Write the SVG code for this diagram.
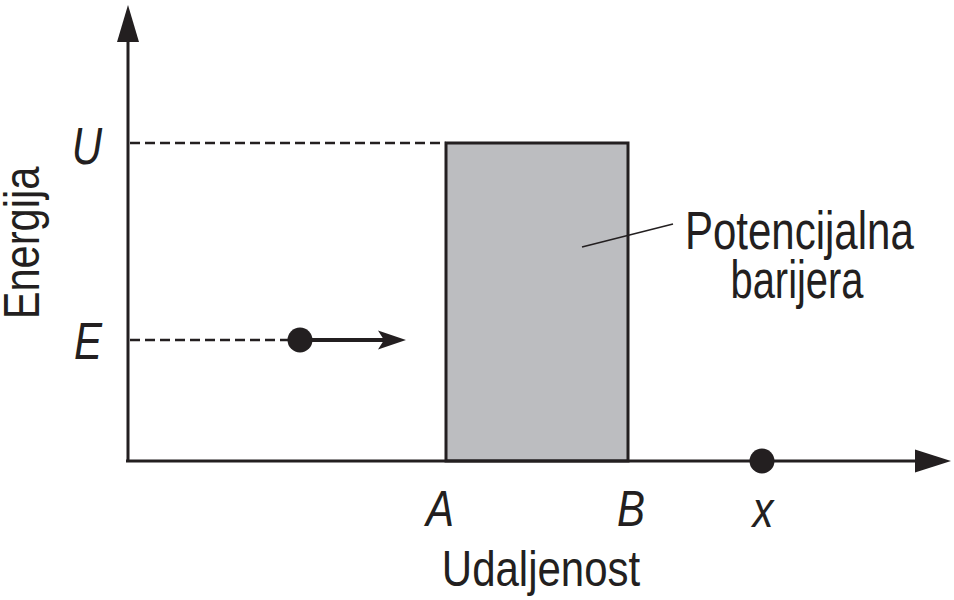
<svg xmlns="http://www.w3.org/2000/svg" width="954" height="600" viewBox="0 0 954 600">
<style>
.ax{stroke:#231f20;stroke-width:3;fill:none}
.dash{stroke:#231f20;stroke-width:2.5;stroke-dasharray:10,5;fill:none}
.t{font-family:"Liberation Sans",Arial,sans-serif;font-size:42px;fill:#231f20}
.i{font-style:italic}
.dot{fill:#231f20}
</style>
<rect width="954" height="600" fill="#fff"/>
<g id="barrier">
<rect x="446" y="143" width="182" height="318" fill="#bcbdc0" stroke="#231f20" stroke-width="3"/>
</g>
<g id="connectors">
<line class="ax" x1="128" y1="462" x2="128" y2="35"/>
<polygon class="dot" points="128,5 117,42 139,42"/>
<line class="ax" x1="126" y1="461" x2="920" y2="461"/>
<polygon class="dot" points="951,461 915,449.5 915,472.5"/>
<line class="dash" x1="130" y1="143" x2="446" y2="143"/>
<line class="dash" x1="130" y1="340" x2="296" y2="340"/>
<line stroke="#231f20" stroke-width="4" x1="300" y1="340" x2="390" y2="340"/>
<polygon class="dot" points="406,340 378,330.5 384,340 378,349.5"/>
<line stroke="#231f20" stroke-width="1.5" x1="582" y1="247" x2="673" y2="224"/>
</g>
<g id="particle"><circle class="dot" cx="300" cy="340" r="12.5"/></g>
<g id="xdot"><circle class="dot" cx="762" cy="461" r="12.5"/></g>
<g id="labels">
<text class="t i" transform="translate(87,164) scale(1,1.22)" text-anchor="middle">U</text>
<text class="t i" transform="translate(88,359) scale(1,1.22)" text-anchor="middle">E</text>
<text class="t i" transform="translate(440,526) scale(1,1.2)" text-anchor="middle">A</text>
<text class="t i" transform="translate(631,526) scale(1,1.2)" text-anchor="middle">B</text>
<text class="t i" transform="translate(763,527) scale(1,1.2)" text-anchor="middle">x</text>
<text class="t" transform="translate(541,586) scale(1,1.2)" text-anchor="middle">Udaljenost</text>
<text class="t" transform="translate(39,243) rotate(-90) scale(0.99,1.18)" text-anchor="middle">Energija</text>
<text class="t" transform="translate(685,249) scale(1,1.28)">Potencijalna</text>
<text class="t" transform="translate(797,298) scale(0.95,1.26)" text-anchor="middle">barijera</text>
</g>
</svg>
